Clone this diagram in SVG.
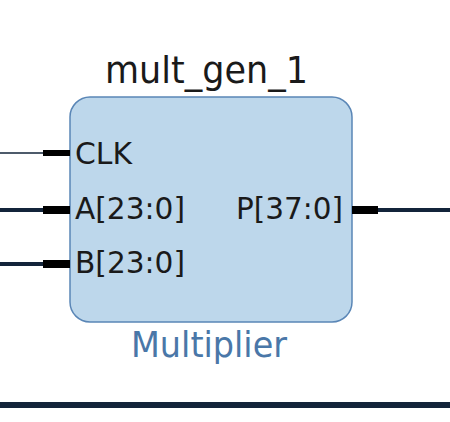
<svg xmlns="http://www.w3.org/2000/svg" width="450" height="422" viewBox="0 0 450 422">
<style>
.t{font-family:"DejaVu Sans",sans-serif;fill:#1a1a1a}
.port{font-size:30px}
.net{stroke:#13243a;fill:none}
.stub{fill:#000}
</style>
<rect width="450" height="422" fill="#fff"/>
<g id="connectors">
<line class="net" x1="0" y1="153" x2="44" y2="153" stroke-width="1.5"/>
<line class="net" x1="0" y1="210" x2="44" y2="210" stroke-width="4"/>
<line class="net" x1="0" y1="264" x2="44" y2="264" stroke-width="4"/>
<line class="net" x1="377" y1="210" x2="450" y2="210" stroke-width="4"/>
<line class="net" x1="0" y1="405" x2="450" y2="405" stroke-width="6"/>
</g>
<g id="mult_gen_1">
<text class="t" x="105" y="83" font-size="38" textLength="203" lengthAdjust="spacingAndGlyphs">mult_gen_1</text>
<rect x="70" y="97" width="282" height="225" rx="20" ry="20" fill="#bdd7eb" stroke="#5a86b6" stroke-width="1.5"/>
<rect class="stub" x="43" y="150" width="27" height="6"/>
<rect class="stub" x="43" y="206" width="27" height="8"/>
<rect class="stub" x="43" y="260" width="27" height="8"/>
<rect class="stub" x="352" y="206" width="26" height="8"/>
<text class="t port" x="75" y="164" textLength="57" lengthAdjust="spacingAndGlyphs">CLK</text>
<text class="t port" x="75" y="219" textLength="110" lengthAdjust="spacingAndGlyphs">A[23:0]</text>
<text class="t port" x="75" y="273" textLength="110" lengthAdjust="spacingAndGlyphs">B[23:0]</text>
<text class="t port" x="236" y="219" textLength="107" lengthAdjust="spacingAndGlyphs">P[37:0]</text>
<text x="131" y="357" font-family="DejaVu Sans,sans-serif" font-size="36" fill="#4a77a8" textLength="156" lengthAdjust="spacingAndGlyphs">Multiplier</text>
</g>
</svg>
